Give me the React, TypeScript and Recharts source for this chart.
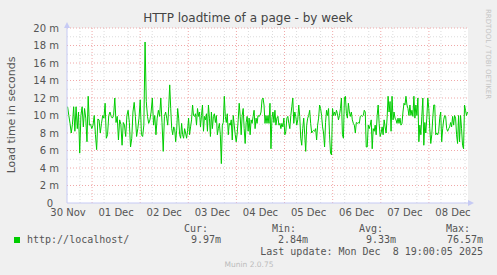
import { LineChart, Line, XAxis, YAxis, ReferenceLine, ReferenceArea } from "recharts"

// hours since Nov 30 11:30 (one week graph, 200 h)
const dayLabels = ["30 Nov", "01 Dec", "02 Dec", "03 Dec", "04 Dec", "05 Dec", "06 Dec", "07 Dec", "08 Dec"]
const labelHours = [0.5, 24.5, 48.5, 72.5, 96.5, 120.5, 144.5, 168.5, 192.5]
const midnightHours = [12.5, 36.5, 60.5, 84.5, 108.5, 132.5, 156.5, 180.5]
const minorHours = [6.5, 18.5, 30.5, 42.5, 54.5, 66.5, 78.5, 90.5, 102.5, 114.5, 126.5, 138.5, 150.5, 162.5, 174.5, 186.5, 198.5]
const yTicks = [0, 2, 4, 6, 8, 10, 12, 14, 16, 18, 20]
const yMinor = [1, 3, 5, 7, 9, 11, 13, 15, 17, 19]

// load time in ms in four chunks
const chunk1 = [
  11.0, 10, 9.1, 8, 9, 11, 8.2, 11, 8.5, 10.4, 5.7, 10, 11, 8.7, 10.8, 9.7, 7, 12.2, 8.9, 9,
  8.5, 8.9, 10, 7.8, 6.1, 9.6, 9.5, 8, 9.1, 10, 9.7, 11.4, 7.4, 7.8, 10, 10.4, 9.9, 9.7, 10, 12,
  9.2, 9.9, 7.2, 9.5, 9, 6.6, 9.2, 8.9, 7.6, 10, 10.6, 9.2, 6.4, 7.4, 10.4, 11.5, 9.9, 7.6, 8.5, 9.7,
  11.8, 7.8, 7.6, 8.9, 18.4, 11.6, 9.9, 9.1, 9.5, 10.4, 12, 8.9, 10, 7.8, 9.7, 10.6, 9.9, 12, 9.2, 5.9,
  9.9, 10.4,
]
const chunk2 = [
  9.7, 8.9, 11, 13.5, 10.8, 8.5, 7.8, 8.7, 8.5, 7, 8.3, 10.8, 9.7, 7.8, 7.4, 9.1, 7.8, 7.4, 8.5, 8,
  7.4, 8.3, 9.7, 7.8, 8.7, 9.5, 11.2, 10, 9.9, 10.2, 8.9, 10.8, 9.9, 10.4, 8.7, 10, 11.2, 8.2, 9.9, 9.5,
  10.2, 8.2, 11.2, 9.7, 7.6, 10.4, 8.5, 9.9, 10.2, 9.2, 10, 7.8, 8.5, 9.1, 7.8, 4.5, 8.9, 9.2, 12.2, 9.9,
  9.2, 10.2, 7.8, 9.1, 8.9, 9.5, 7.2, 10, 8.9, 7.8, 7, 8, 9.5, 11.4, 9.9, 7.8, 10, 10.8, 8.5, 6.8,
  9.2, 9.9, 8.2, 9.7, 7.8, 9.5, 9.1, 9.9, 10.6, 8.5, 9.7, 9.1, 10, 9.9, 10, 10.4, 11.8, 12, 11.2, 9.1,
  10,
]
const chunk3 = [
  9.1, 10, 9.1, 11.4, 6.2, 9.7, 10.4, 9.2, 10.6, 8.9, 9.7, 9.9, 8.9, 9.1, 8.5, 9.1, 8.7, 9.7, 7.8, 8.2,
  9.7, 9.9, 9.1, 8.5, 10, 11, 12, 9.1, 10.4, 9.9, 8.9, 9.5, 11.2, 9.9, 7.4, 6.6, 8.5, 9.7, 7.8, 5.9,
  8.9, 9.7, 10, 10.6, 9.1, 8, 8.2, 8.3, 8.2, 8.5, 7.2, 8.9, 9.7, 11.2, 10.8, 10, 8.7, 8, 6.4, 9.2,
  10.6, 10, 10.8, 7.8, 5.7, 5.5, 10.8, 10, 10.4, 10, 10.6, 10.2, 9.5, 10, 10.8, 12, 7.8, 7.4, 12, 12.2,
  10.2, 9.7, 11.4, 10.4, 9.9, 10.4, 9.5, 9.1, 8.9, 8, 9.2, 9.1, 9.2, 9.1, 9.9, 10, 9.9, 10, 10.6, 10.4,
  6.4,
]
const chunk4 = [
  6.4, 8.9, 8.5, 8.9, 9.5, 6.2, 8.5, 8.2, 8.9, 7.8, 10, 11.2, 9.1, 7.6, 8, 8.7, 7.8, 9.5, 8.7, 8,
  9.7, 12.2, 10.4, 11.6, 8.2, 12.2, 9.5, 10.4, 9.7, 9.5, 9.1, 9.7, 9.1, 9.7, 8.9, 9.1, 10.4, 11.4, 11.2, 12.2,
  11.2, 10.8, 10, 11.2, 10, 10.6, 9.9, 12.2, 9.7, 11.2, 10, 12, 7, 8.9, 7.8, 9.9, 12, 6.6, 9.2, 8,
  9.7, 12, 10.8, 8.5, 6.8, 7.8, 9.7, 11.2, 11.2, 7.8, 8, 7.8, 8.2, 9.7, 10.4, 7, 8.5, 9.5, 10, 9.9,
  8.5, 8.2, 8.5, 8.7, 9.2, 8.7, 9.9, 8.9, 10, 9.7, 7.8, 6.8, 10, 7, 10, 8.5, 6.6, 6.2, 11.2, 10.6,
  10, 10.4,
]
const chunkSpans = [
  [0, 49.5],
  [49.5, 99.5],
  [99.5, 149.5],
  [149.5, 200],
]

const legendName = "http://localhost/"
const statLabels = ["Cur:", "Min:", "Avg:", "Max:"]
const statValues = ["9.97m", "2.84m", "9.33m", "76.57m"]
const lastUpdate = "Last update: Mon Dec  8 19:00:05 2025"

const GREEN = "#00cc00"
const AXIS = "#c6caf4"
const MINOR = "#dcdcdc"
const MAJOR = "#f0a8a8"

const data = [chunk1, chunk2, chunk3, chunk4].flatMap((vals, c) => {
  const [a, b] = chunkSpans[c]
  return vals.map((v, i) => ({ t: a + ((i + 0.5) * (b - a)) / vals.length, v }))
})

type TickProps = {
  x?: number
  y?: number
  payload?: { value: number }
}

// rrdtool leaves room for the (empty) unit after "0"
function YTick({ x = 0, y = 0, payload }: TickProps) {
  const v = payload ? payload.value : 0
  return (
    <text
      x={v === 0 ? x - 6 : x}
      y={y}
      dy="0.355em"
      textAnchor="end"
      fontSize={10}
      fill="#555"
      fontFamily="DejaVu Sans"
    >
      {v === 0 ? "0" : `${v} m`}
    </text>
  )
}

export default function App() {
  return (
    <div
      style={{
        position: "absolute",
        left: 0,
        top: 0,
        width: 497,
        height: 275,
        background: "#f0f0f0",
        fontFamily: "DejaVu Sans",
      }}
    >
      <LineChart width={497} height={275} data={data} margin={{ top: 28, right: 29, bottom: 42, left: 0 }}>
        <XAxis
          dataKey="t"
          type="number"
          domain={[0, 200]}
          ticks={labelHours}
          tickFormatter={(h) => dayLabels[labelHours.indexOf(h)]}
          tick={{ fill: "#555", fontSize: 10, fontFamily: "DejaVu Sans" }}
          axisLine={{ stroke: AXIS }}
          tickLine={false}
          tickMargin={0}
          interval={0}
          allowDataOverflow
        />
        <YAxis
          type="number"
          domain={[0, 20]}
          ticks={yTicks}
          width={67}
          tick={<YTick />}
          axisLine={{ stroke: AXIS }}
          tickLine={false}
          interval={0}
        />
        <ReferenceArea x1={0} x2={200} y1={0} y2={20} fill="#ffffff" fillOpacity={1} stroke="none" />
        {yMinor.map((y) => (
          <ReferenceLine key={`ym${y}`} y={y} stroke={MINOR} strokeDasharray="1 2" />
        ))}
        {minorHours.map((h) => (
          <ReferenceLine key={`xm${h}`} x={h} stroke={MINOR} strokeDasharray="1 2" />
        ))}
        {yTicks.slice(1).map((y) => (
          <ReferenceLine key={`yM${y}`} y={y} stroke={MAJOR} strokeDasharray="1 2" />
        ))}
        {midnightHours.map((h) => (
          <ReferenceLine key={`xM${h}`} x={h} stroke={MAJOR} strokeDasharray="1 2" />
        ))}
        <Line
          type="linear"
          dataKey="v"
          stroke={GREEN}
          strokeWidth={1}
          dot={false}
          isAnimationActive={false}
        />
      </LineChart>
      <svg
        width={497}
        height={275}
        style={{ position: "absolute", left: 0, top: 0, pointerEvents: "none" }}
      >
        <text x={248} y={22} textAnchor="middle" fontSize={12} fill="#444" fontFamily="DejaVu Sans">
          HTTP loadtime of a page - by week
        </text>
        <text
          x={15}
          y={115}
          textAnchor="middle"
          fontSize={11}
          fill="#555"
          fontFamily="DejaVu Sans"
          transform="rotate(-90 15 115)"
        >
          Load time in seconds
        </text>
        <text
          x={486}
          y={54}
          textAnchor="middle"
          fontSize={7}
          fill="#c4c4c4"
          fontFamily="DejaVu Sans"
          transform="rotate(90 486 54)"
        >
          RRDTOOL / TOBI OETIKER
        </text>
        <path d="M 64 28 L 67 22 L 70 28 Z" fill={AXIS} />
        <path d="M 468 200 L 474 203 L 468 206 Z" fill={AXIS} />
        <rect x={14} y={237} width={6} height={6} fill={GREEN} />
        <g fontFamily="DejaVu Sans Mono" fontSize={10} fill="#555">
          <text x={27} y={243}>{legendName}</text>
          {statLabels.map((s, i) => (
            <text key={s} x={[208, 296, 383, 470][i]} y={232} textAnchor="end">
              {s}
            </text>
          ))}
          {statValues.map((s, i) => (
            <text key={s} x={[221, 308, 396, 483][i]} y={243} textAnchor="end">
              {s}
            </text>
          ))}
          <text x={483} y={255} textAnchor="end" xmlSpace="preserve">
            {lastUpdate}
          </text>
        </g>
        <text x={249} y={267} textAnchor="middle" fontSize={7.5} fill="#bbb" fontFamily="DejaVu Sans">
          Munin 2.0.75
        </text>
      </svg>
    </div>
  )
}
